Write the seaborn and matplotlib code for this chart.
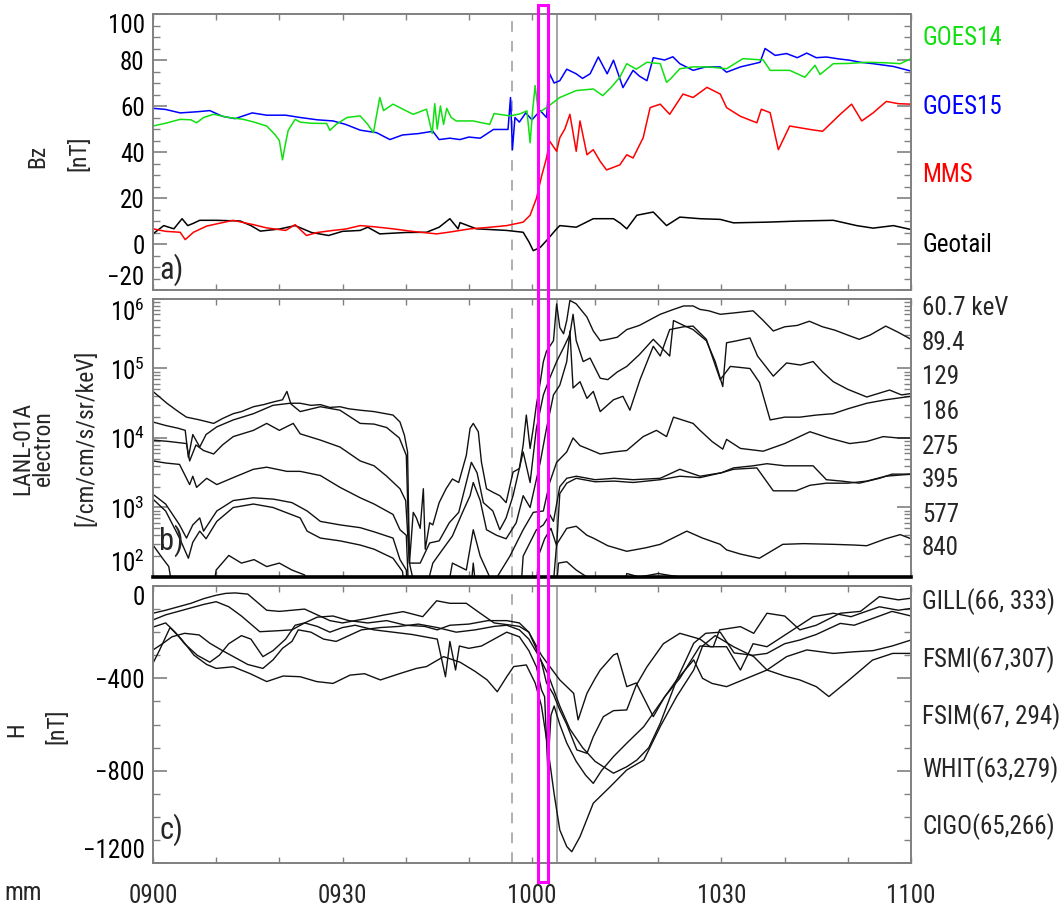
import numpy as np
import pandas as pd
import seaborn as sns
import matplotlib
matplotlib.use("Agg")
import matplotlib.pyplot as plt
from matplotlib import transforms, patches, ticker, font_manager

# ---------------- data (time in minutes after 09:00 UT) ----------------
TIME_TICKS = [0, 30, 60, 90, 120]
TIME_LABELS = ["0900", "0930", "1000", "1030", "1100"]

# Panel a: Bz [nT]  (t, Bz)
GOES14_BZ = [(0,51.3),(2,52.5),(4.3,54.2),(6,54),(6.9,52.7),(8,55),(9.6,56.4),(12,55),(14.3,54.2),(16,53),(18,51.3),
             (19.3,47.6),(20,45),(20.5,36.6),(21,44),(21.4,49.4),(22.5,54.2),(23.3,53),(25,52.5),(27.5,52.4),(28,49.4),
             (29,52),(30.7,55),(32.8,55.7),(34,52),(34.9,48.4),(35.9,63.7),(36.5,58),(38,60.8),(40,58),(41.2,56.4),
             (43.3,58.6),(44.2,48),(44.6,61),(45,50),(45.5,60),(46,52),(46.5,59),(47.2,55),(48,53.5),(50.7,53.5),
             (53.3,52),(54,56.7),(56.5,55.7),(58,56.5),(59.2,57.9),(59.7,44),(60.1,58),(60.5,68.9),(61,57),(62.3,59.3),
             (64.4,63.7),(67,66.7),(69.7,67.4),(71.2,64.5),(72.5,68),(73.9,72.5),(75,78.4),(76.5,76),(78.2,79),
             (80.3,78.4),(81.3,70.3),(82,72),(83.4,76.2),(85.5,77),(88,77),(90.8,76.2),(93.4,80.6),(96.6,80),
             (97.7,75.5),(100.8,75.5),(103.2,72.5),(104.8,77.7),(105.6,73.7),(107.7,78.4),(110,78.5),(113,79),
             (116,78.8),(118.3,78.4),(120,80.6)]
GOES15_BZ = [(0,59),(2,58.5),(4.3,57),(7,57.5),(9,58),(11,55.5),(13,54.5),(15.7,57),(18,56),(21,56),(23.3,55),(26,54),
             (28.5,53.5),(30.5,52),(32.8,49.5),(35.4,48.4),(37.5,45.4),(39.5,47.4),(42,48),(44.3,49),(45.3,45.4),(47,46),
             (48.6,45.4),(50,46.5),(51.8,46),(53.9,49.8),(56.2,49.8),(56.6,63.7),(56.9,41),(57.3,55),(58,53),(59,57),
             (60,54),(61.3,58),(62.3,55),(62.8,74),(63.5,70),(64.4,71),(65.5,76),(67,74),(68,72),(69.2,74),(70.5,81.3),
             (71.9,74),(72.9,79.9),(74.4,68),(76,75.5),(77,73),(78.2,71),(79.2,81),(81,80),(82.3,81.4),(83.4,78.4),
             (85.5,75.5),(87.5,77),(89.8,77),(90.8,74.7),(93,77),(96.1,79),(96.9,85),(98.5,82),(100.3,82.8),(102,81),
             (103.5,83),(105,81),(106.6,81.3),(108.5,80.5),(110.3,79.9),(112,79),(114,78.4),(117.2,77.2),(120,75.2)]
MMS_BZ = [(0,6.6),(2,5.5),(4.3,5.1),(5.1,1.9),(6.4,5.1),(8.5,7.8),(10.5,9),(12.7,10.3),(14,9.5),(15.9,8.4),(18,7),
          (21,5.9),(22.5,8.4),(24.3,3.7),(26,5),(28.5,5.9),(30.5,6.5),(32.8,8),(35,7.5),(38,6.6),(41,5.5),(44.9,4.4),
          (47,5.2),(50.2,6.6),(53,7.2),(56,8),(58.6,9.5),(59.7,12.5),(60.7,19.8),(61.5,29.3),(62.3,37.4),(62.8,44.7),
          (63.9,40.3),(64.4,46.2),(65.2,50),(66,56.4),(67,40.3),(67.6,53.5),(68.7,38.8),(69.7,41),(70.8,35.9),
          (71.8,32.2),(73.9,34.4),(75,38.8),(76,37.4),(77.6,46.2),(78.7,59.3),(80.3,60.8),(81.8,56.4),(83.9,65.2),
          (85.5,63.7),(87.7,68.1),(89.8,65.2),(90.8,59.3),(93,55.5),(95.6,52.7),(96.3,58.6),(97.7,57.1),(99,41),
          (100.8,51.3),(102.5,50.5),(104,49.8),(106,49),(108.8,56.4),(110.6,60.8),(112.2,53.5),(114,57),(116.1,62),
          (118,61),(120,60.8)]
GEOTAIL_BZ = [(0,4.4),(1.7,8),(3.3,6.6),(4.6,11),(5.5,8),(6.4,9),(7.4,10.3),(10,10.3),(13.8,10),(15.5,8),(17,5.6),
              (20,6.5),(22.5,8),(25.1,5),(27.8,3.7),(30,5.5),(32.8,5.9),(34,7.3),(35.9,4.4),(40,5),(43.3,5.1),
              (45.3,7.3),(47,11),(48.3,6.6),(48.6,9.3),(51.2,6.6),(56,5.9),(58.6,5.1),(59.5,1),(60.2,-2.9),(61.3,-1.5),
              (62.3,1.5),(63.9,6.6),(64.4,8),(67,7.3),(69.7,11),(72.9,11),(74,9),(75,6.6),(76.6,12.5),(79.2,13.9),
              (81.3,8),(83.4,11.7),(86.6,11),(89.8,10.7),(91.9,9.2),(97.2,9.5),(102.4,10),(107.7,10.3),(111.4,8),
              (114,6.9),(117.2,8),(120,6.3)]

# Panel b: LANL-01A electron flux, log10 [/cm/cm/s/sr/keV]  (t, log10 flux)
E060 = [(0,4.67),(2.2,4.5),(4,4.38),(5.3,4.3),(7.4,4.26),(9.6,4.21),(11,4.28),(12.7,4.35),(14,4.38),(15.9,4.45),
        (17.5,4.48),(19.1,4.52),(20.5,4.55),(21.2,4.67),(21.8,4.5),(23.3,4.5),(25,4.47),(26.5,4.48),(28,4.44),
        (29.6,4.45),(31,4.42),(32.8,4.4),(35,4.38),(38,4.33),(39.1,4.23),(39.8,4.04),(40.3,3.8),(40.6,2.2),
        (41.2,2.93),(41.7,2.85),(42.3,2.7),(42.8,3.27),(43.1,2.4),(43.8,2.78),(44.3,2.75),(45.3,3.07),(46.4,3.27),
        (47.4,3.41),(48.4,3.36),(49.6,3.75),(50.2,4.14),(50.7,4.21),(51.5,4.09),(52,3.65),(52.8,3.27),(53.8,3.22),
        (54.9,3.17),(55.9,3.07),(57,3.51),(58,3.56),(58.6,3.9),(59.1,4.33),(59.7,3.85),(60.2,4.14),(60.7,4.48),
        (61.3,4.8),(61.8,5.1),(62.3,5.25),(63.4,5.4),(63.9,5.93),(64.4,5.59),(65,5.5),(65.5,5.69),(66,5.98),
        (67,5.93),(68.7,5.74),(69.7,5.54),(70.8,5.4),(72,5.42),(73.5,5.45),(75,5.56),(77,5.62),(80.3,5.78),
        (82.4,5.85),(84,5.9),(85.5,5.9),(86.6,5.85),(88,5.83),(89.8,5.78),(92,5.8),(95,5.83),(96.5,5.7),
        (98.2,5.54),(100,5.6),(102,5.62),(103.9,5.68),(106,5.6),(108,5.55),(110,5.48),(111.8,5.42),(113.5,5.48),
        (116,5.61),(118,5.52),(120,5.42)]
E089 = [(0,4.23),(2,4.18),(4,4.14),(5.1,4.11),(5.6,3.72),(6.3,4.05),(7.4,3.87),(8.4,4.05),(10.1,4.16),(12.7,4.26),
        (15.9,4.35),(19,4.47),(21.7,4.5),(23.3,4.38),(26.5,4.45),(29.6,4.4),(32.8,4.21),(35,4.2),(37,4.15),(39,4.0),
        (40.1,3.75),(40.6,2.2),(42.3,2.2),(43.8,2.49),(45.3,2.52),(46.9,2.78),(48.4,2.93),(49.6,3.36),(50.4,3.65),
        (51.3,3.5),(52.3,3.07),(53.8,2.95),(54.9,2.68),(55.9,2.85),(57,3.17),(58.6,3.8),(59.7,3.36),(60.7,4.14),
        (61.8,4.62),(62.8,4.86),(63.9,5.1),(65,5.3),(66,5.49),(66.5,5.78),(67,5.4),(68.1,5.1),(69.2,5.15),
        (70.8,4.86),(72,4.84),(73.5,4.95),(75,5.03),(77,5.2),(79.2,5.42),(80.5,5.3),(81.8,5.18),(82.4,5.69),
        (84,5.62),(85.5,5.56),(87.6,5.4),(89,5.1),(90.2,4.74),(90.8,5.37),(92.5,5.4),(94.5,5.44),(95.7,5.18),
        (98.2,4.89),(100.3,5.08),(102.5,5.05),(104.5,5.1),(106,4.95),(107.7,4.81),(110,4.7),(113,4.59),
        (116.6,4.69),(118.5,4.62),(120,4.64)]
E129 = [(0,3.97),(2.5,3.95),(5.3,3.92),(5.8,3.67),(6.8,3.9),(8,3.82),(9.6,3.77),(11,3.9),(12.7,4.02),(15.9,4.11),
        (18,4.21),(20,4.11),(22.2,4.21),(23.3,4.06),(26.5,3.97),(29.6,3.87),(32.8,3.67),(35,3.6),(37,3.45),
        (39.1,3.27),(40,3.1),(40.6,2.2),(42.3,1.5),(44.3,2.2),(45.8,2.39),(47.4,2.59),(49,2.93),(50.2,3.17),
        (50.7,3.36),(51.8,3.1),(52.8,2.68),(54.4,2.6),(55.9,2.55),(57.5,2.78),(58.6,3.17),(59.7,3.0),(61.3,3.65),
        (62.3,4.14),(63.4,4.62),(64.4,4.76),(65.5,5.1),(66,5.54),(66.5,4.72),(67.6,4.81),(68.7,4.57),(69.7,4.67),
        (70.8,4.38),(72.9,4.55),(74.4,4.6),(75.5,4.4),(77.1,4.84),(79.2,5.32),(80.3,5.18),(81.8,5.56),(84,5.6),
        (85.5,5.61),(87.6,5.42),(89.8,4.84),(91.4,5.03),(94.5,5.0),(96,4.8),(97.7,4.26),(100,4.3),(102.4,4.3),
        (105,4.33),(107.7,4.35),(110,4.42),(113,4.5),(116,4.55),(120,4.6)]
E186 = [(0,3.67),(2,3.64),(4.2,3.62),(5.8,3.33),(6.3,3.45),(6.9,3.29),(8.5,3.42),(10.1,3.33),(12.7,3.43),(15.9,3.55),
        (18,3.58),(21.2,3.52),(23.3,3.52),(26.5,3.46),(29.6,3.29),(32.8,3.14),(35,3.05),(38,2.9),(39.1,2.68),
        (40.1,2.6),(40.6,1.5),(46,1.5),(47.4,2.2),(49.6,2.1),(50.7,2.68),(51.8,2.3),(53.8,1.9),(56.5,2.3),
        (58.6,2.68),(60.2,2.93),(61.8,2.95),(62.8,3.36),(63.9,3.65),(65.5,3.8),(66.5,4.0),(67.6,3.89),(68.7,3.85),
        (70.8,3.77),(73,3.8),(75,3.82),(77.6,4.02),(79.7,4.11),(81.3,4.02),(82.4,4.3),(85.5,4.21),(86.6,4.11),
        (88.5,3.95),(90.2,3.84),(90.8,3.98),(93,3.85),(96.6,3.81),(100,3.92),(104,4.09),(107,4.0),(110.3,3.92),
        (113,3.95),(115.6,4.02),(118,4.0),(120,4.0)]
E275 = [(0,3.19),(2,3.05),(4.2,2.75),(5.3,2.56),(6.3,2.75),(7.4,2.85),(8,2.66),(10.1,2.95),(12.7,3.1),(15.9,3.14),
        (19.1,3.12),(22,3.07),(24.4,2.95),(26.5,2.8),(29.6,2.75),(32.8,2.71),(35,2.65),(38,2.56),(39.1,2.25),
        (40.1,2.1),(40.6,1.5),(50,1.5),(50.7,2.2),(51.5,1.5),(58,1.5),(58.6,2.3),(60.7,2.68),(61.8,2.75),
        (62.8,2.9),(63.4,2.8),(64.4,3.3),(65.5,3.42),(67,3.45),(70,3.4),(73,3.42),(76,3.4),(80.3,3.42),(83.4,3.55),
        (86.6,3.45),(90,3.5),(91.9,3.57),(95,3.6),(97.2,3.63),(100,3.6),(104.5,3.6),(106.6,3.4),(109,3.38),
        (111.8,3.35),(115,3.42),(117,3.48),(120,3.48)]
E395 = [(0,3.12),(2,2.95),(4.2,2.56),(5.6,2.27),(6.3,2.5),(7.4,2.66),(8.4,2.55),(10.1,2.8),(12.7,3.0),(15.9,3.05),
        (19,3.0),(23.3,2.85),(24.4,2.66),(26.5,2.56),(29.6,2.52),(32.8,2.46),(35,2.4),(38,2.27),(39.5,2.08),
        (40.2,1.5),(60.5,1.5),(61,2.3),(62,2.55),(63,2.7),(63.9,2.45),(64.4,3.2),(65.5,3.35),(67,3.42),(70,3.37),
        (73,3.38),(76,3.36),(80.3,3.4),(83.4,3.45),(86.6,3.43),(90,3.5),(91.9,3.55),(95.6,3.57),(98.2,3.24),
        (101.8,3.24),(104,3.32),(106.6,3.35),(110,3.35),(113,3.38),(116,3.45),(120,3.48)]
E577 = [(0,2.46),(1.5,2.27),(2.5,2.15),(3.7,1.5),(9,1.5),(10,2.1),(12,2.31),(14,2.2),(16,2.25),(18,2.15),(20,2.2),
        (22,2.1),(24,2.03),(25,1.5),(63,1.5),(63.9,2.47),(65.5,2.7),(67,2.73),(68.7,2.6),(69.7,2.56),(72,2.45),
        (75,2.37),(78,2.42),(80.3,2.47),(84.5,2.66),(87,2.56),(89.8,2.47),(90.8,2.39),(93,2.33),(96,2.27),
        (99.7,2.47),(103,2.48),(107.7,2.47),(111,2.46),(113,2.45),(116,2.55),(118.3,2.61),(120,2.55)]
E840 = [(0,1.5),(63.5,1.5),(64.2,2.2),(65.5,2.22),(67,2.1),(68.7,2.0),(70,1.5),(74,1.5),(75,2.05),(77,2.0),
        (80,2.05),(82,2.02),(85,1.98),(86,1.5),(120,1.5)]

# Panel c: ground H [nT]  (t, H)
GILL_H = [(0,-118),(2,-105),(4,-90),(6,-75),(8,-55),(10,-40),(11.5,-32),(13,-30),(15,-35),(16.5,-70),(18,-105),
          (20,-110),(22,-105),(24,-100),(26,-125),(28,-150),(30,-160),(32,-150),(34,-140),(36.5,-126),(39.6,-111),
          (42.7,-133),(44.9,-64),(47,-75),(49.6,-75),(51.8,-118),(54,-160),(56.5,-169),(58,-175),(59.5,-200),
          (60.5,-250),(61.5,-300),(62.3,-330),(64.4,-407),(66.6,-465),(67.3,-580),(68.7,-465),(70,-400),
          (70.8,-364),(72.9,-299),(73.5,-292),(75,-436),(76.5,-420),(79.2,-566),(81,-480),(83.4,-400),(86.6,-260),
          (88.7,-263),(89.7,-190),(93,-176),(95.1,-205),(97.2,-118),(100,-130),(102.4,-190),(105,-170),(108.8,-118),
          (112,-110),(115,-46),(118,-60),(120,-53)]
FSMI_H = [(0,-147),(2,-125),(4,-110),(6,-95),(8,-80),(10,-68),(12,-90),(14,-130),(16.9,-198),(19,-195),(22,-190),
          (24,-160),(26,-135),(28.5,-130),(31,-150),(34,-160),(37,-150),(40,-170),(43,-175),(45,-190),(47,-170),
          (50,-165),(53,-150),(56,-150),(58,-160),(59.5,-200),(60.5,-260),(61.5,-330),(62.3,-420),(63.4,-470),
          (64.4,-537),(65.5,-600),(67.1,-710),(68.7,-725),(69.7,-653),(71.3,-566),(72.9,-540),(75,-537),
          (76.5,-430),(78.2,-350),(80.8,-250),(83.4,-205),(86.6,-230),(88.2,-263),(90.8,-263),(93,-364),(95,-250),
          (97.2,-263),(101.3,-190),(104.5,-133),(107.7,-118),(110.5,-133),(115,-90),(118,-105),(120,-97)]
FSIM_H = [(0,-178),(2,-160),(3.5,-200),(5,-250),(7,-300),(9,-330),(10.5,-300),(12,-250),(14,-215),(15.5,-230),
          (17.4,-306),(19,-280),(21,-230),(22.5,-170),(24,-160),(26,-175),(28,-200),(30,-180),(32,-170),(35,-190),
          (38,-200),(41,-210),(43,-220),(45,-230),(46.3,-393),(47,-240),(47.9,-364),(48.5,-260),(50,-270),
          (52,-260),(54,-230),(56,-200),(58,-220),(59.5,-280),(60.7,-350),(61.5,-450),(62,-480),(62.5,-797),
          (63,-560),(63.5,-520),(64.4,-600),(65.5,-680),(67,-760),(68.5,-820),(69.7,-855),(71,-800),(72.9,-739),
          (75,-681),(77.7,-609),(80.3,-508),(82.9,-407),(85.6,-320),(87,-400),(88.5,-422),(90.8,-436),(94,-400),
          (97.2,-364),(100.3,-306),(103.5,-277),(107.7,-292),(111,-285),(114,-280),(117,-260),(120,-234)]
WHIT_H = [(0,-277),(1.5,-250),(3,-220),(5,-205),(7.3,-212),(9,-248),(11,-280),(13,-310),(15,-340),(17.4,-357),
          (19,-320),(20.5,-270),(22,-240),(23,-190),(25,-200),(27,-230),(29,-240),(31,-215),(33,-190),(36,-180),
          (39,-175),(42,-165),(45,-180),(48,-200),(51,-190),(54,-175),(56,-170),(58,-190),(59.5,-230),(61,-300),
          (62.5,-380),(64.4,-520),(66,-620),(68,-700),(70,-760),(72.9,-811),(75,-783),(76.6,-754),(78.5,-700),
          (80.3,-595),(82.9,-407),(85.6,-248),(87.5,-205),(89.8,-200),(92,-290),(95,-300),(97.2,-292),(100,-250),
          (102.4,-234),(105,-210),(108.8,-162),(111,-170),(114,-140),(117,-110),(120,-130)]
CIGO_H = [(0,-334),(1,-280),(2.7,-180),(4.5,-230),(6.5,-300),(8.5,-340),(10,-357),(12.7,-350),(15.4,-380),(18,-414),
          (20.6,-390),(23.3,-393),(25.9,-414),(28.5,-422),(31.2,-386),(33.5,-380),(36,-407),(39,-380),(41.7,-357),
          (43.3,-349),(46,-306),(48.6,-330),(51,-370),(52.9,-407),(54.5,-458),(56,-393),(57.1,-349),(59.1,-342),
          (60.5,-420),(61.5,-520),(62.5,-700),(63.5,-900),(64.4,-1057),(65.5,-1129),(66.3,-1151),(67.6,-1086),
          (69.7,-941),(72.4,-869),(75,-797),(77.7,-754),(80.3,-609),(82.9,-479),(85.6,-364),(87,-260),(89,-215),
          (91.9,-263),(95.1,-306),(97.2,-364),(100,-390),(102.4,-407),(105,-436),(107,-479),(110.2,-407),
          (113.9,-321),(117.1,-292),(120,-292)]

BZ_SERIES = {"GOES14": GOES14_BZ, "GOES15": GOES15_BZ, "MMS": MMS_BZ, "Geotail": GEOTAIL_BZ}
BZ_COLORS = {"GOES14": "#10e010", "GOES15": "#0000ff", "MMS": "#ff0000", "Geotail": "#000000"}
E_SERIES = {"60.7 keV": E060, "89.4": E089, "129": E129, "186": E186,
            "275": E275, "395": E395, "577": E577, "840": E840}
H_SERIES = {"GILL(66, 333)": GILL_H, "FSMI(67,307)": FSMI_H, "FSIM(67, 294)": FSIM_H,
            "WHIT(63,279)": WHIT_H, "CIGO(65,266)": CIGO_H}

DIPOLARIZATION_T = 56.9   # dashed line
ONSET_T = 64.0            # solid grey line
BOX_T = (61.0, 62.5)      # magenta box


def long_df(series, log=False):
    rows = []
    for name, pts in series.items():
        for t, v in pts:
            rows.append((name, t, 10 ** v if log else v))
    return pd.DataFrame(rows, columns=["series", "t", "v"])


# ---------------- style ----------------
sns.set_theme(style="ticks")
avail = {f.name for f in font_manager.fontManager.ttflist}
FONT = next((f for f in ["Liberation Sans Narrow", "DejaVu Sans Condensed", "Roboto Condensed",
                         "Roboto", "Liberation Sans"] if f in avail), "DejaVu Sans")
plt.rcParams["font.family"] = [FONT, "DejaVu Sans"]
plt.rcParams["mathtext.fontset"] = "custom"
plt.rcParams["mathtext.rm"] = FONT
plt.rcParams["mathtext.it"] = FONT
plt.rcParams["mathtext.bf"] = FONT

FS = 18
SPINE = "#808080"

fig = plt.figure(figsize=(10.61, 9.10), dpi=100)
W, H = 1061, 910


def add_ax(top, bottom, left=153, right=911):
    return fig.add_axes([left / W, 1 - bottom / H, (right - left) / W, (bottom - top) / H])


ax_a = add_ax(14, 290)
ax_b = add_ax(299, 577)
ax_c = add_ax(586, 863)

# panel a
sns.lineplot(data=long_df(BZ_SERIES), x="t", y="v", hue="series", palette=BZ_COLORS,
             hue_order=["Geotail", "MMS", "GOES15", "GOES14"],
             estimator=None, sort=False, legend=False, lw=1.1, ax=ax_a)
ax_a.set_ylim(-20, 100)
ax_a.set_yticks([-20, 0, 20, 40, 60, 80, 100])
ax_a.yaxis.set_minor_locator(ticker.MultipleLocator(5))

# panel b
sns.lineplot(data=long_df(E_SERIES, log=True), x="t", y="v", hue="series",
             palette={k: "#111111" for k in E_SERIES}, estimator=None, sort=False,
             legend=False, lw=1.0, ax=ax_b)
ax_b.set_yscale("log")
ax_b.set_ylim(1e2, 1e6)
ax_b.yaxis.set_major_locator(ticker.FixedLocator([1e2, 1e3, 1e4, 1e5, 1e6]))
ax_b.yaxis.set_major_formatter(ticker.FuncFormatter(lambda v, p: r"$10^{%d}$" % round(np.log10(v))))
ax_b.yaxis.set_minor_locator(ticker.LogLocator(base=10, subs=np.arange(2, 10), numticks=20))
ax_b.yaxis.set_minor_formatter(ticker.NullFormatter())

# panel c
sns.lineplot(data=long_df(H_SERIES), x="t", y="v", hue="series",
             palette={k: "#111111" for k in H_SERIES}, estimator=None, sort=False,
             legend=False, lw=1.0, ax=ax_c)
ax_c.set_ylim(-1200, 0)
ax_c.set_yticks([-1200, -800, -400, 0])
ax_c.yaxis.set_minor_locator(ticker.MultipleLocator(100))

for ax in (ax_a, ax_b, ax_c):
    ax.set_xlim(0, 120)
    ax.set_xticks(TIME_TICKS)
    ax.xaxis.set_minor_locator(ticker.MultipleLocator(10))
    ax.set_xlabel("")
    ax.set_ylabel("")
    for s in ax.spines.values():
        s.set_color(SPINE)
        s.set_linewidth(1.4)
    ax.tick_params(axis="y", which="major", direction="in", length=10, width=1.2, color=SPINE,
                   left=True, right=True, labelsize=FS, pad=6, labelcolor="black")
    ax.tick_params(axis="y", which="minor", direction="in", length=5, width=1.0, color=SPINE,
                   left=True, right=True)
    ax.tick_params(axis="x", which="both", direction="in", length=4, width=1.0, color=SPINE,
                   top=True, bottom=True, labelsize=FS, pad=15)
    ax.axvline(DIPOLARIZATION_T, color="#9a9a9a", lw=1.1, ls=(0, (7, 6)), zorder=0)
    ax.axvline(ONSET_T, color="#8c8c8c", lw=1.1, zorder=0)
    ax.set_facecolor("white")

ax_a.tick_params(axis="x", labelbottom=False)
ax_b.tick_params(axis="x", labelbottom=False)
ax_c.set_xticklabels(TIME_LABELS)
ax_b.spines["bottom"].set_color("black")
ax_b.spines["bottom"].set_linewidth(2.6)

# edge tick labels pulled inside the axis range (top label hangs, bottom label sits)
fig.canvas.draw()
for ax in (ax_a, ax_b, ax_c):
    ticks = ax.yaxis.get_major_ticks()
    ticks[0].label1.set_verticalalignment("bottom")
    ticks[-1].label1.set_verticalalignment("top")

# panel letters
for ax, lab, yy in ((ax_a, "a)", 0.075), (ax_b, "b)", 0.13), (ax_c, "c)", 0.12)):
    ax.text(0.008, yy, lab, transform=ax.transAxes, fontsize=22, va="center", ha="left")

# right-hand labels
RX = 922 / W
for (name, col), yp in zip(BZ_COLORS.items(), [38, 107, 175, 245]):
    fig.text(RX, 1 - yp / H, name, color=col, fontsize=FS, va="center", ha="left")
for name, yp in zip(E_SERIES, [308, 343, 377, 412, 447, 480, 515, 548]):
    fig.text(RX, 1 - yp / H, name, fontsize=FS, va="center", ha="left")
for name, yp in zip(H_SERIES, [602, 660, 717, 770, 827]):
    fig.text(RX, 1 - yp / H, name, fontsize=FS, va="center", ha="left")

# y labels
YL = 17
for txt, xp, yp in (("Bz", 38, 156), ("[nT]", 79, 153), ("LANL-01A\nelectron", 33, 448),
                    ("[/cm/cm/s/sr/keV]", 86, 438), ("H", 17, 730), ("[nT]", 57, 726)):
    fig.text(xp / W, 1 - yp / H, txt, rotation=90, fontsize=YL, va="center", ha="center",
             linespacing=0.85, multialignment="center")
fig.text(23 / W, 1 - 893 / H, "mm", fontsize=FS, va="center", ha="center")

# magenta box spanning all panels
trans = transforms.blended_transform_factory(ax_c.transData, fig.transFigure)
box = patches.Rectangle((BOX_T[0], 1 - 882 / H), BOX_T[1] - BOX_T[0], (882 - 5) / H,
                        transform=trans, fill=False, edgecolor="#ff00ff", lw=2.2, clip_on=False, zorder=10)
fig.add_artist(box)

fig.savefig("out.png", dpi=100, facecolor="white")
